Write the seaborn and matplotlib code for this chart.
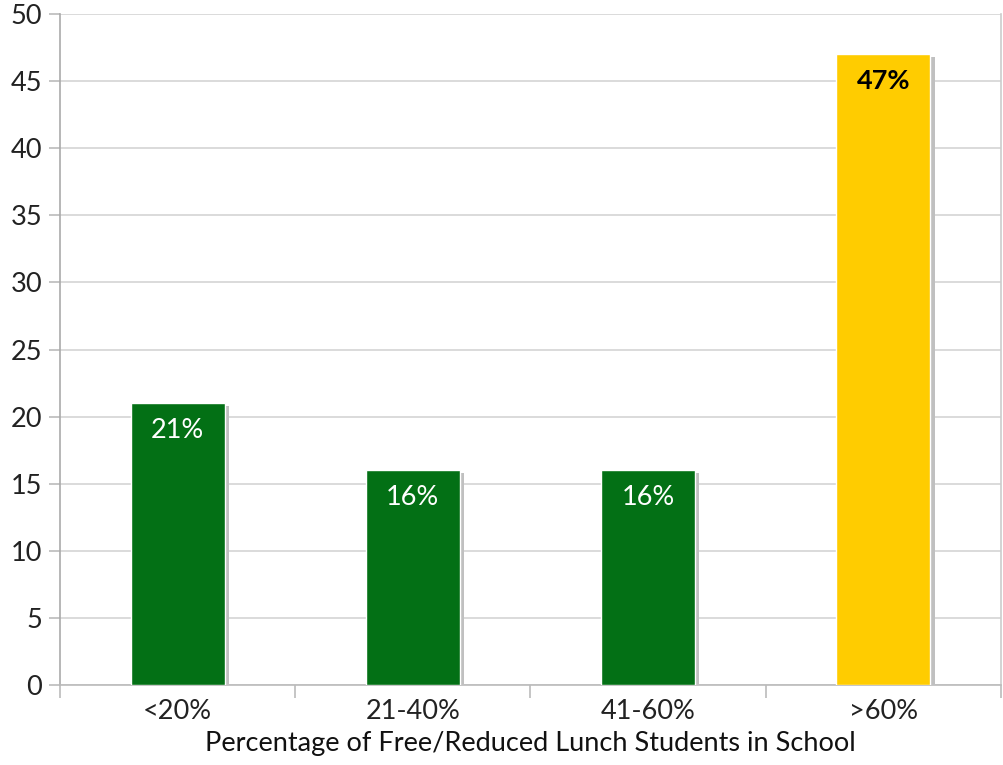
import matplotlib
matplotlib.use("Agg")
import matplotlib.pyplot as plt
import matplotlib.patheffects as pe
import seaborn as sns
import pandas as pd

categories = ["<20%", "21-40%", "41-60%", ">60%"]
values = [21, 16, 16, 47]
labels = ["21%", "16%", "16%", "47%"]
bar_colors = ["#037015", "#037015", "#037015", "#FFCC00"]
label_colors = ["white", "white", "white", "black"]
y_ticks = [0, 5, 10, 15, 20, 25, 30, 35, 40, 45, 50]
x_title = "Percentage of Free/Reduced Lunch Students in School"

sns.set_theme(style="white")
plt.rcParams["font.family"] = ["Lato", "DejaVu Sans"]

df = pd.DataFrame({"cat": categories, "val": values})

fig = plt.figure(figsize=(10.04, 7.65), dpi=100)
ax = fig.add_axes([60/1004, 1 - 685/765, 941/1004, (685 - 14)/765])

sns.barplot(data=df, x="cat", y="val", hue="cat", palette=bar_colors,
            width=0.4, legend=False, ax=ax, saturation=1, zorder=3)

for p in ax.patches:
    p.set_path_effects([pe.SimplePatchShadow(offset=(3, -2), shadow_rgbFace="#c0c0c0", alpha=1.0),
                        pe.Normal()])

ax.set_ylim(0, 50)
ax.set_xlim(-0.5, 3.5)
ax.set_yticks(y_ticks)
ax.set_yticklabels([str(t) for t in y_ticks], fontsize=19.5, color="#222222")
ax.yaxis.grid(True, color="#d4d4d4", linewidth=1.2, zorder=0)
ax.set_axisbelow(True)
ax.tick_params(axis="y", length=8, width=1.2, color="#bbbbbb", pad=5, left=True)

ax.set_xticks(range(len(categories)))
ax.set_xticklabels(categories, fontsize=19.5, color="#222222")
ax.set_xticks([-0.5, 0.5, 1.5, 2.5, 3.5], minor=True)
ax.tick_params(axis="x", which="major", length=0, pad=10)
ax.tick_params(axis="x", which="minor", length=9, width=1.2, color="#bbbbbb", bottom=True)
ax.set_xlabel(x_title, fontsize=19.5, color="#111111", labelpad=5)
ax.set_ylabel("")

ax.spines["top"].set_visible(False)
ax.spines["left"].set_color("#aaaaaa")
ax.spines["bottom"].set_color("#bbbbbb")
ax.spines["right"].set_color("#cccccc")
for s in ["left", "bottom", "right"]:
    ax.spines[s].set_linewidth(1.2)

for i, (v, lab, c) in enumerate(zip(values, labels, label_colors)):
    ax.text(i, v - 2.0, lab, ha="center", va="center", fontsize=19.5, color=c, zorder=5,
            fontweight="bold" if c == "black" else "normal")

fig.savefig("out.png", dpi=100)
